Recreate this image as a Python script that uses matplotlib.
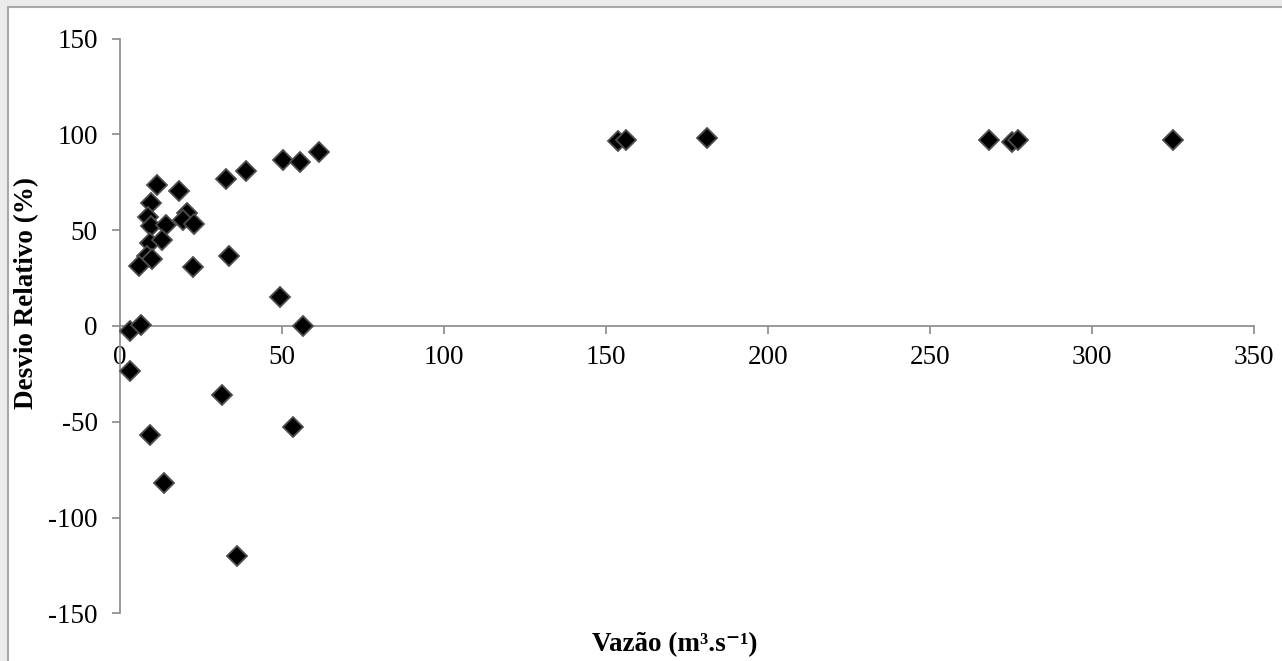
import matplotlib
matplotlib.use('Agg')
import matplotlib.pyplot as plt
from matplotlib.patches import Rectangle

# values
vazao = [11.3, 18.2, 9.5, 8.7, 9.6, 14.2, 20.8, 19.5, 22.8, 9.3, 13.1, 8.2, 9.8,
         5.9, 22.6, 33.7, 32.6, 38.9, 50.4, 55.6, 61.4, 49.4, 3.1, 6.4, 56.6,
         3.1, 31.6, 9.3, 53.3, 13.6, 36.0,
         153.8, 156.2, 181.1, 268.3, 275.2, 277.3, 325.1]
desvio = [73.5, 70.2, 63.9, 56.6, 52.3, 52.8, 58.9, 55.3, 53.2, 43.2, 44.8, 36.6, 34.9,
          31.2, 30.8, 36.4, 76.7, 80.7, 86.6, 85.7, 91.0, 15.3, -2.6, 0.4, 0.0,
          -23.5, -36.0, -57.1, -52.8, -81.9, -120.2,
          96.7, 97.1, 97.9, 97.1, 95.8, 97.2, 97.1]

x_ticks = [0, 50, 100, 150, 200, 250, 300, 350]
y_ticks = [-150, -100, -50, 0, 50, 100, 150]

plt.rcParams['font.family'] = ['Liberation Serif', 'DejaVu Serif']
plt.rcParams['axes.unicode_minus'] = False
axis_gray = '#898989'

fig = plt.figure(figsize=(12.82, 6.61), dpi=100, facecolor='#ebebeb')
# white chart area with thin gray border
fig.patches.append(Rectangle((8 / 1282, -0.05), 1.1, 1 - 7 / 661 + 0.05,
                             transform=fig.transFigure, facecolor='white',
                             edgecolor='#a8a8a8', linewidth=1.5, zorder=-10))

ax = fig.add_axes([120 / 1282, 1 - 613.3 / 661, (1254 - 120) / 1282, (613.3 - 38.5) / 661])
ax.set_zorder(1)
ax.set_facecolor('none')

ax.plot(vazao, desvio, linestyle='none', marker='D', markersize=10.3,
        markerfacecolor='black', markeredgecolor='#4d4d4d', markeredgewidth=1.3,
        zorder=5, clip_on=False)

ax.set_xlim(0, 350)
ax.set_ylim(-150, 150)
ax.set_xticks(x_ticks)
ax.set_yticks(y_ticks)

for s in ['top', 'right']:
    ax.spines[s].set_visible(False)
ax.spines['bottom'].set_position(('data', 0))
for s in ['left', 'bottom']:
    ax.spines[s].set_color(axis_gray)
    ax.spines[s].set_linewidth(1.2)

ax.tick_params(axis='both', direction='out', length=6, width=1.2, color=axis_gray,
               labelsize=19.5, labelcolor='black')
ax.tick_params(axis='y', pad=10)
ax.tick_params(axis='x', pad=8)

fig.text(27 / 1282, 1 - 293 / 661, 'Desvio Relativo (%)', rotation=90,
         ha='center', va='center', fontsize=19.5, fontweight='bold')
fig.text(675 / 1282, 1 - 645 / 661, 'Vazão (m³.s⁻¹)',
         ha='center', va='center', fontsize=19.5, fontweight='bold')

fig.savefig('out.png', dpi=100, facecolor=fig.get_facecolor())
plt.close(fig)
